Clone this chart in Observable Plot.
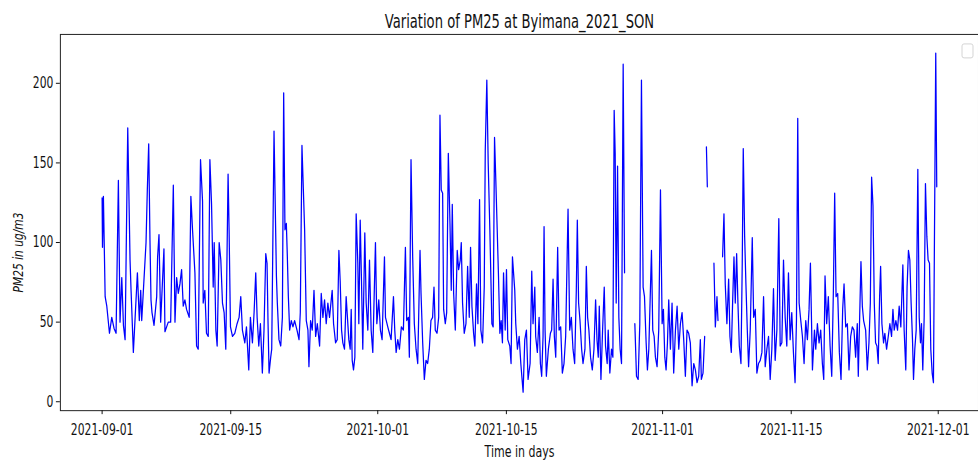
<!DOCTYPE html>
<html><head><meta charset="utf-8">
<script src="https://cdn.jsdelivr.net/npm/d3@7"></script>
<script src="https://cdn.jsdelivr.net/npm/@observablehq/plot@0.6"></script>
<style>
html,body{margin:0;padding:0;background:#fff;overflow:hidden;}
#chart{width:978px;height:463px;overflow:hidden;position:relative;}
</style></head><body><div id="chart"></div>
<script>
const startDate = "2021-09-01";
const title = "Variation of PM25 at Byimana_2021_SON";
const xLabel = "Time in days";
const yLabel = "PM25 in ug/m3";
const xTickDates = ["2021-09-01","2021-09-15","2021-10-01","2021-10-15","2021-11-01","2021-11-15","2021-12-01"];
const yTicks = [0, 50, 100, 150, 200];
const yDomain = [-5.6, 230.7];

// days since 2021-09-01 00:00
const days = [
0.00,0.04,0.14,0.33,0.51,0.80,1.05,1.30,1.52,1.77,
1.95,2.14,2.32,2.50,2.79,3.04,3.15,3.40,3.84,4.05,
4.20,4.31,4.78,4.92,5.07,5.21,5.32,5.43,5.65,5.94,
6.04,6.19,6.37,6.73,6.84,7.02,7.20,7.46,7.75,7.93,
8.11,8.29,8.47,8.65,8.83,9.01,9.19,9.48,9.66,9.84,
10.10,10.28,10.46,10.71,10.93,11.00,11.18,11.36,11.55,11.73,
11.91,12.09,12.20,12.38,12.52,12.74,12.92,13.10,13.28,13.46,
13.71,13.82,13.97,14.19,14.44,14.69,14.91,15.09,15.27,15.53,
15.71,15.96,16.14,16.36,16.54,16.72,16.87,17.05,17.23,17.44,
17.62,17.81,17.95,18.06,18.17,18.35,18.46,18.71,18.97,19.07,
19.25,19.44,19.62,19.76,19.90,20.05,20.16,20.27,20.41,20.59,
20.77,20.95,21.21,21.43,21.57,21.75,21.86,22.04,22.22,22.40,
22.51,22.69,22.87,23.06,23.24,23.42,23.67,23.85,24.03,24.21,
24.39,24.57,24.75,25.04,25.19,25.41,25.59,25.77,25.91,26.06,
26.20,26.38,26.56,26.85,27.00,27.11,27.22,27.36,27.51,27.65,
27.83,27.94,28.09,28.23,28.37,28.59,28.74,28.92,29.10,29.28,
29.46,29.75,29.90,30.11,30.29,30.47,30.73,30.84,31.09,31.27,
31.45,31.71,31.85,32.00,32.18,32.36,32.57,32.79,33.01,33.15,
33.33,33.44,33.62,33.80,33.98,34.17,34.35,34.60,34.71,34.89,
35.07,35.25,35.43,35.61,35.79,35.97,36.12,36.26,36.45,36.63,
36.77,36.91,37.06,37.17,37.35,37.50,37.68,37.86,38.00,38.11,
38.26,38.44,38.65,38.80,38.98,39.09,39.23,39.41,39.60,39.78,
39.96,40.10,40.25,40.43,40.57,40.75,40.90,41.08,41.22,41.41,
41.59,41.70,41.87,42.02,42.20,42.42,42.56,42.71,42.85,43.00,
43.14,43.29,43.43,43.57,43.69,43.87,44.01,44.15,44.37,44.51,
44.66,44.91,45.02,45.20,45.39,45.57,45.82,46.00,46.18,46.36,
46.58,46.76,46.90,47.09,47.19,47.37,47.56,47.70,47.84,47.99,
48.10,48.21,48.35,48.57,48.79,48.93,49.08,49.22,49.37,49.58,
49.73,49.91,50.09,50.27,50.45,50.71,50.89,51.07,51.25,51.43,
51.61,51.72,51.86,52.01,52.19,52.34,52.55,52.70,52.84,52.98,
53.16,53.35,53.53,53.71,53.86,54.00,54.11,54.29,54.47,54.65,
54.79,54.97,55.08,55.26,55.44,55.59,55.73,55.84,55.95,56.10,
56.24,56.38,56.53,56.71,56.86,57.40,57.98,58.16,58.34,58.52,
58.70,58.88,59.03,59.21,59.35,59.50,59.79,59.93,60.08,60.22,
60.40,60.58,60.77,60.95,61.09,61.24,61.38,61.53,61.67,61.85,
62.03,62.21,62.40,62.58,62.76,62.94,63.12,63.30,63.48,63.66,
63.84,64.02,64.21,64.39,64.57,64.75,64.93,65.11,65.22,65.40,
65.58,65.68,65.77,65.87,66.20,66.59,66.74,66.92,67.03,67.30,
67.53,67.68,67.82,68.00,68.19,68.33,68.48,68.62,68.77,68.91,
69.06,69.20,69.35,69.53,69.67,69.78,69.93,70.07,70.22,70.36,
70.54,70.76,70.91,71.09,71.26,71.44,71.63,71.81,71.99,72.17,
72.35,72.53,72.71,72.89,73.07,73.25,73.44,73.65,73.80,73.98,
74.16,74.34,74.52,74.70,74.88,75.06,75.24,75.42,75.57,75.71,
75.86,76.04,76.22,76.40,76.58,76.76,76.94,77.09,77.31,77.53,
77.67,77.85,78.03,78.21,78.39,78.54,78.68,78.86,79.04,79.23,
79.41,79.59,79.73,79.88,80.06,80.24,80.42,80.60,80.75,80.93,
81.11,81.29,81.47,81.65,81.83,82.01,82.19,82.30,82.45,82.59,
82.74,82.88,83.10,83.28,83.46,83.61,83.75,83.90,84.04,84.18,
84.33,84.47,84.62,84.73,84.87,85.05,85.19,85.38,85.56,85.74,
85.92,86.07,86.21,86.39,86.57,86.75,86.93,87.15,87.29,87.47,
87.61,87.76,87.91,88.05,88.20,88.31,88.45,88.60,88.78,88.93,
89.07,89.18,89.32,89.47,89.61,89.76,89.90,90.05,90.19,90.34,
90.48,90.73,90.84
];

// PM2.5 in ug/m3 (null = missing data)
const pm25 = [
128,97,129,66,60,43,53,46,43,139,
50,78,48,39,172,89,70,31,81,51,
70,51,100,133,162,101,64,56,48,66,
91,105,50,96,44,47,50,50,136,50,
78,68,74,83,60,64,58,53,129,108,
81,35,33,152,126,62,70,43,41,152,
124,72,100,45,35,100,89,62,56,33,
143,108,47,41,43,49,53,66,45,37,
47,20,53,37,56,81,53,35,49,18,
45,93,87,49,18,28,33,170,79,62,
39,35,53,194,108,112,91,66,45,51,
47,51,45,39,56,161,141,108,51,45,
22,51,45,70,41,49,35,68,53,64,
49,62,53,70,49,37,39,95,76,45,
37,33,66,39,33,58,26,20,28,118,
87,49,114,76,33,106,62,45,89,45,
31,100,49,64,45,39,91,53,47,43,
39,66,45,31,39,33,47,45,97,51,
53,28,152,91,49,33,24,95,68,37,
14,26,24,33,51,53,72,45,43,53,
180,133,131,58,49,56,156,112,70,124,
68,45,95,83,89,100,62,43,49,85,
53,97,60,43,35,74,49,127,45,37,
72,158,202,150,108,49,47,166,139,108,
79,43,51,37,81,45,83,39,35,24,
91,70,49,33,41,24,6,39,45,14,
24,82,49,72,41,31,53,24,16,41,
110,45,16,33,43,45,77,41,28,97,
45,47,18,24,41,121,45,53,33,24,
70,114,62,51,33,24,33,85,53,45,
28,20,33,64,39,28,60,14,45,72,
35,24,45,18,33,28,183,156,62,148,
53,33,24,212,81,null,49,16,14,49,
202,72,66,37,20,33,95,45,41,28,
22,45,133,49,58,28,20,37,64,33,
62,18,45,60,33,49,56,39,16,45,
43,37,10,24,20,12,16,39,14,18,
41,null,160,135,null,87,47,66,51,null,
91,118,74,49,77,41,31,62,91,62,
93,62,35,24,87,159,104,74,45,22,
45,103,53,58,18,24,26,31,66,22,
33,41,14,33,71,26,45,115,35,37,
89,53,35,81,39,56,31,12,51,178,
62,51,41,24,51,39,58,87,20,45,
33,49,37,45,24,14,79,49,66,35,
16,70,131,66,68,31,14,58,74,47,
49,20,41,47,45,28,49,16,53,88,
60,51,45,20,37,62,141,123,62,37,
35,24,66,85,49,37,43,33,41,49,
41,58,45,51,45,60,47,86,45,20,
72,95,89,62,39,14,33,45,146,53,
37,49,20,53,137,104,89,87,33,18,
12,219,135
];

if (days.length !== pm25.length) console.error("length mismatch", days.length, pm25.length);

const DAY = 864e5;
const t0 = new Date(startDate + "T00:00:00Z");
const data = days.map((d, i) => ({date: new Date(+t0 + d * DAY), value: pm25[i]}));
const dMin = d3.min(days), dMax = d3.max(days), pad = 0.05 * (dMax - dMin);
const xDomain = [new Date(+t0 + (dMin - pad) * DAY), new Date(+t0 + (dMax + pad) * DAY)];

const plot = Plot.plot({
  width: 980, height: 463,
  marginLeft: 60, marginRight: 0, marginTop: 34, marginBottom: 52,
  style: {fontFamily: "'DejaVu Sans', sans-serif", fontSize: "15px", color: "#111", background: "#fff", overflow: "visible"},
  x: {type: "utc", domain: xDomain, label: null},
  y: {domain: yDomain, label: null},
  marks: [
    Plot.line(data, {x: "date", y: "value", stroke: "#0000ff", strokeWidth: 1.25}),
    Plot.frame({stroke: "#222", strokeWidth: 1}),
    Plot.axisX({ticks: xTickDates.map(s => new Date(s + "T00:00:00Z")), tickFormat: d3.utcFormat("%Y-%m-%d"), tickSize: 4, tickPadding: 10, label: null, fontSize: 15}),
    Plot.axisY({ticks: yTicks, tickSize: 4, tickPadding: 3, label: null, fontSize: 15}),
    Plot.text([title], {text: d => d, frameAnchor: "top", dy: -21, fontSize: 20, fill: "#111"}),
    Plot.text([xLabel], {text: d => d, frameAnchor: "bottom", dy: 46, fontSize: 16, fill: "#111"})
  ]
});
document.getElementById("chart").appendChild(plot);

const svg = d3.select(plot);
svg.append("text")
  .attr("class", "ylab")
  .attr("transform", "translate(19,253) rotate(-90)")
  .attr("text-anchor", "middle")
  .attr("dominant-baseline", "middle")
  .attr("font-size", 14)
  .attr("font-style", "italic")
  .attr("fill", "#111")
  .text(yLabel);

// legend frame (empty legend, as in the source figure)
svg.append("rect").attr("x", 964).attr("y", 44).attr("width", 11).attr("height", 14)
  .attr("rx", 2).attr("fill", "#fff").attr("stroke", "#d4d4d4");

// horizontally condensed text, as in the source image
svg.selectAll("text").each(function() {
  const el = this;
  const txt = el.textContent;
  const len = el.getComputedTextLength();
  let target = len * 0.72;
  if (txt === title) target = 270;
  if (txt === yLabel) target = 80;
  if (txt === xLabel) target = 70;
  if (len > 0) {
    el.setAttribute("textLength", target);
    el.setAttribute("lengthAdjust", "spacingAndGlyphs");
  }
});
</script>
</body></html>
